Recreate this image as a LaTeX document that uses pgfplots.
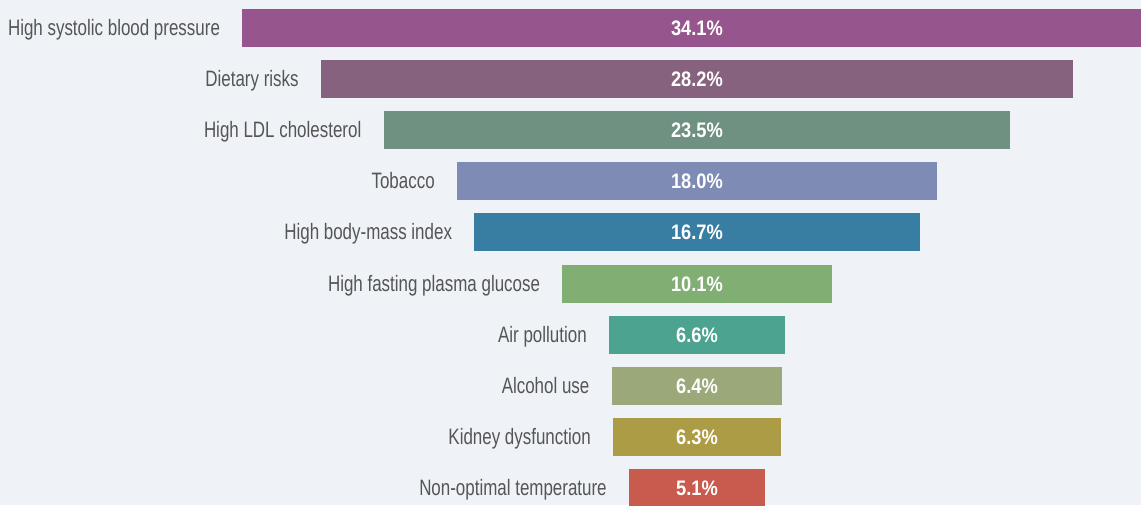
\documentclass[border=0pt]{standalone}
\usepackage{fontspec}
\setmainfont{Liberation Sans}[FakeStretch=0.76]
\newfontfamily\valfont{Liberation Sans}[FakeStretch=0.87]
\usepackage{pgfplots}
\usepackage{pgfplotstable}
\pgfplotsset{compat=1.18}
\definecolor{bg}{HTML}{EFF3F8}
\definecolor{txt}{HTML}{555555}
\definecolor{c1}{HTML}{96558D}
\definecolor{c2}{HTML}{86627E}
\definecolor{c3}{HTML}{6E9182}
\definecolor{c4}{HTML}{7E8BB4}
\definecolor{c5}{HTML}{387DA2}
\definecolor{c6}{HTML}{81AE72}
\definecolor{c7}{HTML}{4BA390}
\definecolor{c8}{HTML}{9AA87A}
\definecolor{c9}{HTML}{AC9C46}
\definecolor{c10}{HTML}{C85A4E}
\pgfplotstableread[col sep=comma]{
y,v,name
1,34.1,High systolic blood pressure
2,28.2,Dietary risks
3,23.5,High LDL cholesterol
4,18.0,Tobacco
5,16.7,High body-mass index
6,10.1,High fasting plasma glucose
7,6.6,Air pollution
8,6.4,Alcohol use
9,6.3,Kidney dysfunction
10,5.1,Non-optimal temperature
}\datatable
\newcommand{\funnelbar}[2]{%
  \addplot[draw=none, mark=none, restrict y to domain=#1:#1,
    error bars/.cd, x dir=both, x explicit, error mark=none,
    error bar style={line width=38pt, color=#2, line cap=butt}]
    table[x expr=0, y=y, x error expr=\thisrow{v}/2] {\datatable};
}
\begin{document}
\begin{tikzpicture}
\begin{axis}[
  width=1141pt, height=505pt, scale only axis,
  xmin=-26.13, xmax=16.65,
  ymin=0.451, ymax=10.333, y dir=reverse,
  axis lines=none, ticks=none,
  axis background/.style={fill=bg},
  clip=true,
]
\funnelbar{1}{c1}
\funnelbar{2}{c2}
\funnelbar{3}{c3}
\funnelbar{4}{c4}
\funnelbar{5}{c5}
\funnelbar{6}{c6}
\funnelbar{7}{c7}
\funnelbar{8}{c8}
\funnelbar{9}{c9}
\funnelbar{10}{c10}
% value labels
\addplot[draw=none, mark=none, point meta=explicit,
  nodes near coords={\pgfmathprintnumber[fixed,precision=1,fixed zerofill,assume math mode=true]{\pgfplotspointmeta}\%},
  every node near coord/.append style={anchor=base, yshift=-7.5pt, inner sep=0pt, text=white, font=\valfont\bfseries\fontsize{21}{21}\selectfont}]
  table[x expr=0, y=y, meta=v] {\datatable};
% category labels
\addplot[draw=none, mark=none, point meta=explicit symbolic,
  nodes near coords,
  every node near coord/.append style={anchor=base east, xshift=-22pt, yshift=-7.5pt, inner sep=0pt, text=txt, font=\fontsize{22.3}{22.3}\selectfont}]
  table[x expr=-\thisrow{v}/2, y=y, meta=name] {\datatable};
\end{axis}
\end{tikzpicture}
\end{document}
